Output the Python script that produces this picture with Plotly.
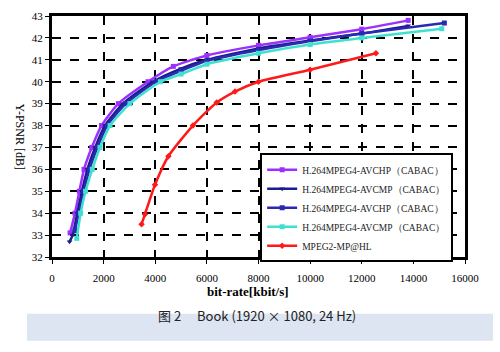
import plotly.graph_objects as go

# --- data ---
names = ["H.264MPEG4-AVCHP（CABAC）", "H.264MPEG4-AVCMP（CABAC）",
         "H.264MPEG4-AVCHP（CABAC）", "H.264MPEG4-AVCMP（CABAC）", "MPEG2-MP@HL"]

hp1_x = [700, 890, 1060, 1240, 1540, 1920, 2570, 3720, 4700, 6000, 8000, 10000, 12000, 13800]
hp1_y = [33.1, 34.0, 35.0, 36.0, 37.0, 38.0, 39.0, 40.0, 40.7, 41.2, 41.66, 42.03, 42.4, 42.8]

mp1_x = [680, 800, 980, 1160, 1370, 1670, 2050, 2750, 3910, 5000, 6000, 8000, 10000, 12000, 13800]
mp1_y = [32.7, 33.0, 34.0, 35.0, 36.0, 37.0, 38.0, 39.0, 40.0, 40.6, 41.0, 41.52, 41.88, 42.2, 42.55]

hp2_x = [890, 1040, 1230, 1450, 1760, 2140, 2860, 4030, 5000, 6000, 8000, 10000, 12000, 15200]
hp2_y = [33.2, 34.0, 35.0, 36.0, 37.0, 38.0, 39.0, 40.0, 40.5, 40.95, 41.45, 41.85, 42.2, 42.68]

mp2_x = [960, 1110, 1300, 1560, 1860, 2250, 3020, 4200, 5000, 6000, 8000, 10000, 12000, 15100]
mp2_y = [32.85, 34.0, 35.0, 36.0, 37.0, 38.0, 39.0, 40.0, 40.35, 40.8, 41.3, 41.7, 42.0, 42.42]

mpeg2_x = [3470, 3600, 3990, 4510, 5460, 6380, 7090, 8000, 10000, 12550]
mpeg2_y = [33.5, 33.95, 35.3, 36.6, 38.0, 39.05, 39.55, 40.0, 40.55, 41.3]

x_ticks = [0, 2000, 4000, 6000, 8000, 10000, 12000, 14000, 16000]
y_ticks = [32, 33, 34, 35, 36, 37, 38, 39, 40, 41, 42, 43]

series = [
    (hp1_x, hp1_y, "#9B30FF", "square"),
    (mp1_x, mp1_y, "#1C1C8C", "triangle-down"),
    (hp2_x, hp2_y, "#2A2AB0", "square"),
    (mp2_x, mp2_y, "#40E0D0", "square"),
    (mpeg2_x, mpeg2_y, "#FF1A1A", "diamond"),
]

fig = go.Figure()
for (xs, ys, col, sym), nm in zip(series, names):
    fig.add_trace(go.Scatter(x=xs, y=ys, name=nm, mode="lines+markers",
                             line=dict(color=col, width=2.5, shape="spline", smoothing=0.6),
                             marker=dict(color=col, symbol=sym, size=5)))

serif = "Liberation Serif, Times New Roman, serif"
fig.update_layout(
    width=500, height=352,
    margin=dict(l=52, r=35, t=10, b=95),
    paper_bgcolor="white", plot_bgcolor="white",
    font=dict(family=serif, size=11, color="black"),
    showlegend=True,
    legend=dict(x=0.504, y=0.43, xanchor="left", yanchor="top",
                bgcolor="white", bordercolor="black", borderwidth=2,
                font=dict(family=serif, size=9.5, color="#222"),
                tracegroupgap=0, itemwidth=30),
    xaxis=dict(range=[0, 16000], tickvals=x_ticks, ticktext=[str(v) for v in x_ticks],
               showgrid=True, gridcolor="black", gridwidth=2, griddash="dash",
               showline=True, linecolor="black", linewidth=3, mirror=True,
               ticks="outside", ticklen=4, tickcolor="black", zeroline=False,
               ticklabelstandoff=5,
               tickfont=dict(family=serif, size=11)),
    yaxis=dict(range=[32, 43], tickvals=y_ticks,
               showgrid=True, gridcolor="black", gridwidth=2, griddash="dash",
               showline=True, linecolor="black", linewidth=3, mirror=True,
               ticks="outside", ticklen=4, tickcolor="black", zeroline=False,
               tickfont=dict(family=serif, size=11)),
)

fig.add_shape(type="rect", xref="paper", yref="paper",
              x0=-0.0605, x1=1.0678, y0=-0.348, y1=-0.235,
              fillcolor="#DCE5F1", line=dict(width=0))

fig.add_annotation(text="<b>bit-rate[kbit/s]</b>", xref="paper", yref="paper",
                   x=0.475, y=-0.182, showarrow=False,
                   font=dict(family=serif, size=13, color="black"))
fig.add_annotation(text="Y-PSNR [dB]", xref="paper", yref="paper",
                   x=-0.097, y=0.5, showarrow=False, textangle=90,
                   font=dict(family=serif, size=12, color="black"))
fig.add_annotation(text="图 2　 Book (1920 × 1080, 24 Hz)", xref="paper", yref="paper",
                   x=0.496, y=-0.2915, showarrow=False,
                   font=dict(family="Noto Sans CJK SC, Liberation Sans, sans-serif",
                             size=13, color="#222"))

fig.write_html("out.html")
